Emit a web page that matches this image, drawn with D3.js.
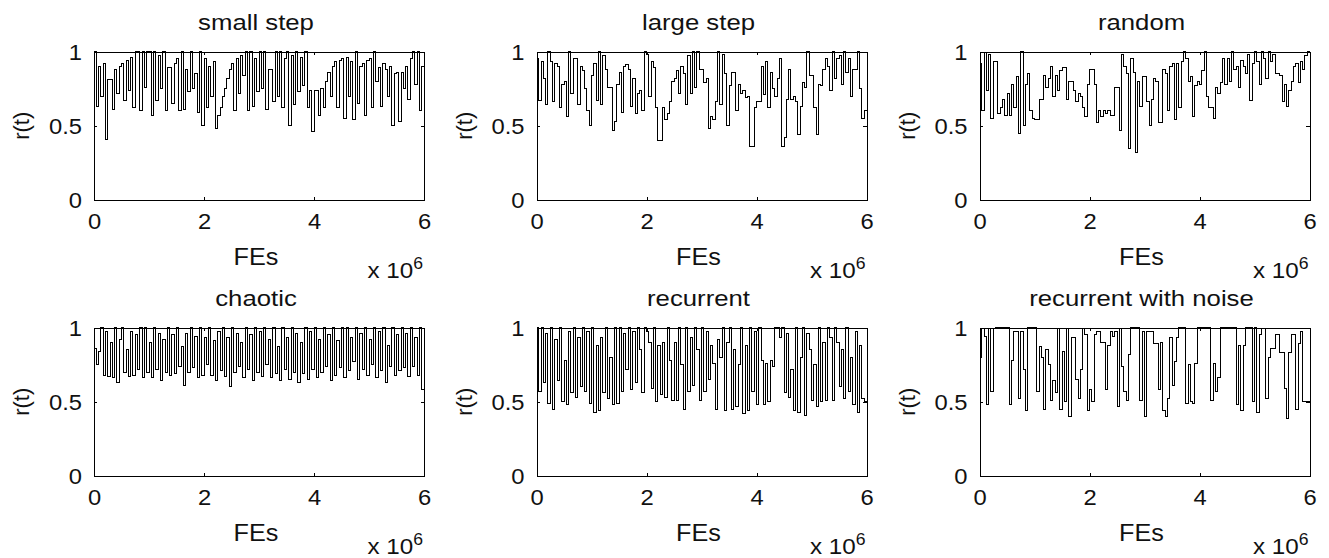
<!DOCTYPE html>
<html>
<head>
<meta charset="utf-8">
<script src="https://cdn.jsdelivr.net/npm/d3@7"></script>
<style>
  body { margin: 0; background: #fff; }
  svg { display: block; }
</style>
</head>
<body>
<svg id="chart" width="1329" height="558"></svg>
<script>
// r(t) traces sampled on a uniform FEs grid (x 10^6), one array per change type
const smallStep = [
  1, 0.63, 0.9, 0.70, 0.92, 0.41, 0.81, 0.81, 0.61, 0.88, 0.72, 0.9,
  0.92, 0.67, 0.94, 0.74, 0.96, 0.62, 1, 1, 0.6, 1, 0.76, 1,
  1, 0.57, 1, 0.67, 0.97, 0.75, 1, 0.6, 0.89, 0.89, 0.65, 0.92,
  0.95, 0.6, 1, 0.61, 0.88, 0.73, 1, 0.75, 0.85, 0.59, 1, 0.5,
  0.95, 0.62, 0.9, 0.7, 0.93, 0.48, 0.57, 0.62, 0.7, 0.75, 0.82, 0.88,
  0.92, 0.6, 0.95, 0.72, 0.97, 0.84, 1, 0.6, 1, 0.63, 0.95, 0.73,
  1, 0.75, 1, 0.61, 0.88, 0.88, 0.66, 1, 0.7, 1, 0.62, 0.95,
  1, 0.5, 0.97, 0.64, 1, 0.73, 0.96, 0.77, 1, 0.62, 0.74, 0.46,
  0.74, 0.74, 0.57, 0.75, 0.62, 0.8, 0.86, 0.7, 0.9, 0.93, 0.62, 0.94,
  0.95, 0.55, 0.96, 0.7, 0.93, 0.54, 1, 0.65, 0.9, 0.92, 0.57, 0.94,
  0.95, 0.62, 1, 0.8, 0.89, 0.63, 0.92, 0.88, 0.7, 0.9, 0.5, 0.85,
  0.86, 0.53, 0.86, 0.75, 0.9, 0.68, 0.95, 1, 0.78, 1, 0.6, 0.9
];
const largeStep = [
  0.95, 0.67, 0.93, 0.82, 0.64, 1, 0.93, 0.66, 0.92, 0.9, 0.62, 0.78,
  0.8, 0.56, 1, 0.72, 0.95, 0.95, 0.64, 0.9, 0.87, 0.75, 0.6, 0.5,
  0.84, 0.92, 0.67, 1, 0.64, 0.97, 0.88, 0.76, 0.76, 0.47, 0.53, 0.78,
  0.86, 0.59, 0.9, 0.91, 0.88, 0.63, 0.82, 0.58, 0.72, 0.74, 0.6, 1,
  0.98, 0.7, 0.93, 0.89, 0.62, 0.4, 0.4, 0.62, 0.54, 0.58, 0.66, 0.8,
  0.82, 0.87, 0.72, 0.9, 0.85, 0.64, 0.97, 0.72, 1, 0.76, 1, 0.88,
  0.88, 0.79, 0.82, 0.48, 0.56, 0.54, 0.66, 1, 0.64, 0.98, 0.85, 0.5,
  0.77, 0.86, 0.86, 0.6, 0.78, 0.72, 0.74, 0.69, 0.7, 0.36, 0.36, 0.62,
  0.66, 0.66, 0.9, 0.71, 0.93, 0.62, 0.86, 0.75, 0.7, 0.82, 0.95, 0.36,
  0.42, 0.68, 0.88, 0.68, 0.7, 0.66, 0.44, 0.63, 0.79, 0.76, 1, 0.84,
  0.84, 0.62, 0.44, 0.78, 0.77, 0.88, 0.95, 0.9, 0.74, 1, 0.82, 0.95,
  0.97, 0.78, 1, 0.86, 0.95, 0.7, 0.88, 0.88, 1, 0.75, 0.55, 0.6
];
const randomChange = [
  0.92, 0.6, 0.99, 0.74, 0.98, 0.55, 0.93, 0.93, 0.58, 0.62, 0.68, 0.57,
  0.72, 0.57, 0.78, 0.62, 0.83, 0.45, 1, 0.5, 0.78, 0.85, 0.6, 0.55,
  0.54, 0.54, 0.68, 0.68, 0.84, 0.76, 0.82, 0.9, 0.7, 0.84, 0.74, 0.87,
  0.89, 0.89, 0.68, 0.8, 0.8, 0.74, 0.66, 0.72, 0.7, 0.62, 0.56, 0.78,
  0.88, 0.88, 0.78, 0.52, 0.6, 0.56, 0.6, 0.58, 0.6, 0.57, 0.57, 0.76,
  0.76, 0.47, 0.98, 0.9, 0.85, 0.35, 0.95, 0.86, 0.32, 0.8, 0.63, 0.83,
  0.83, 0.66, 0.5, 0.68, 0.82, 0.8, 0.52, 0.52, 0.88, 0.85, 0.6, 0.9,
  0.92, 0.54, 0.92, 0.62, 0.93, 1, 0.95, 0.8, 0.83, 0.56, 0.77, 0.8,
  0.78, 0.87, 1, 0.7, 0.62, 0.62, 0.55, 0.76, 0.72, 0.79, 0.95, 0.78,
  0.95, 0.8, 1, 0.88, 0.9, 0.76, 0.94, 0.9, 0.85, 0.98, 0.67, 0.92,
  1, 0.93, 0.78, 1, 0.95, 0.82, 1, 0.93, 0.98, 0.85, 0.85, 0.84,
  0.66, 0.78, 0.63, 0.74, 0.8, 0.9, 0.92, 0.79, 0.93, 0.88, 0.97, 1
];
const chaotic = [
  0.86, 0.75, 0.84, 1, 0.68, 0.97, 0.67, 0.9, 0.66, 1, 0.63, 0.92,
  1, 0.7, 0.85, 0.67, 0.97, 0.68, 0.95, 0.72, 1, 0.66, 1, 0.7,
  0.9, 0.66, 1, 0.72, 0.96, 0.64, 0.92, 0.7, 1, 0.68, 0.95, 0.69,
  1, 0.74, 0.87, 0.61, 0.96, 0.7, 1, 0.73, 0.94, 0.66, 1, 0.68,
  0.93, 0.75, 1, 0.68, 0.91, 0.64, 0.97, 0.71, 1, 0.67, 0.93, 0.6,
  1, 0.7, 0.96, 0.74, 0.9, 0.66, 1, 0.72, 0.95, 0.64, 1, 0.7,
  0.97, 0.67, 1, 0.75, 0.92, 0.66, 1, 0.69, 0.87, 0.64, 1, 0.72,
  0.93, 0.65, 1, 0.7, 0.96, 0.63, 0.9, 0.69, 1, 0.65, 0.97, 0.72,
  1, 0.66, 0.92, 0.7, 1, 0.74, 0.95, 0.64, 1, 0.68, 0.91, 0.73,
  1, 0.66, 1, 0.71, 0.93, 0.77, 1, 0.65, 0.96, 0.72, 1, 0.68,
  0.92, 0.75, 1, 0.66, 0.97, 0.71, 1, 0.63, 0.88, 0.74, 1, 0.68,
  0.95, 0.71, 1, 0.73, 0.96, 0.67, 1, 0.74, 0.93, 0.68, 1, 0.58
];
const recurrent = [
  1, 0.57, 1, 0.63, 0.96, 0.49, 1, 0.45, 0.92, 0.64, 1, 0.5,
  0.78, 0.48, 0.97, 0.56, 1, 0.53, 0.93, 0.6, 1, 0.57, 0.97, 0.49,
  1, 0.43, 0.88, 0.44, 0.93, 0.56, 1, 0.52, 0.8, 0.48, 1, 0.49,
  1, 0.57, 0.96, 0.72, 1, 0.58, 0.97, 0.63, 1, 0.85, 0.56, 1,
  0.97, 0.9, 0.59, 1, 0.5, 0.88, 0.55, 0.9, 0.53, 1, 0.78, 0.51,
  0.9, 0.51, 1, 0.75, 0.45, 1, 0.57, 0.93, 0.61, 1, 0.85, 0.51,
  1, 0.57, 0.97, 0.65, 0.88, 0.76, 0.45, 0.92, 0.8, 1, 0.44, 0.9,
  1, 0.45, 0.85, 0.47, 0.75, 1, 0.42, 0.88, 0.44, 1, 0.57, 0.97,
  0.48, 1, 0.78, 0.48, 0.76, 0.5, 0.78, 0.74, 1, 1, 0.93, 1,
  0.56, 0.96, 0.53, 0.72, 0.44, 1, 0.43, 0.8, 1, 0.41, 0.96, 0.85,
  0.51, 0.75, 0.47, 1, 0.5, 0.9, 0.51, 1, 0.93, 0.51, 1, 0.9,
  0.6, 0.85, 0.52, 1, 0.57, 0.8, 0.48, 0.97, 0.43, 0.88, 0.52, 0.5
];
const recurrentNoise = [
  0.8, 0.99, 0.94, 0.48, 0.99, 0.57, 0.99, 1, 1, 1, 1, 1,
  1, 0.48, 0.78, 0.97, 0.97, 0.52, 0.97, 0.72, 0.44, 1, 1, 1,
  1, 0.57, 0.87, 0.8, 0.45, 0.85, 0.75, 0.51, 0.64, 0.56, 0.99, 0.45,
  0.84, 0.5, 0.99, 0.4, 0.93, 0.93, 0.65, 0.52, 0.72, 0.99, 0.95, 0.44,
  0.58, 0.5, 0.95, 0.97, 0.97, 0.9, 0.9, 0.58, 0.88, 0.97, 0.94, 0.97,
  0.47, 0.99, 0.74, 0.57, 0.51, 0.82, 1, 1, 1, 1, 0.51, 0.97,
  0.4, 0.97, 0.97, 0.97, 0.89, 0.89, 0.58, 0.9, 0.44, 0.4, 0.52, 0.93,
  0.61, 0.77, 0.93, 1, 1, 1, 0.49, 0.75, 0.5, 0.49, 0.76, 1,
  1, 1, 1, 1, 1, 0.51, 0.76, 0.57, 0.66, 1, 1, 1,
  1, 1, 1, 1, 0.48, 0.88, 0.44, 0.88, 1, 1, 1, 0.5,
  1, 0.43, 0.95, 0.99, 0.99, 0.52, 0.8, 0.86, 0.86, 0.95, 0.95, 0.83,
  0.83, 0.59, 0.39, 0.83, 0.95, 0.95, 0.45, 0.89, 0.97, 0.5, 0.5, 0.5
];

const panelTitles = ["small step", "large step", "random", "chaotic", "recurrent", "recurrent with noise"];
const panelSeries = [smallStep, largeStep, randomChange, chaotic, recurrent, recurrentNoise];
const xTicks = [0, 2, 4, 6];
const yTicks = [0, 0.5, 1];
const xDomain = [0, 6];
const yDomain = [0, 1];
const xLabel = "FEs";
const yLabel = "r(t)";

// ---- layout ----
const colX = [94, 536.5, 979.5];
const rowY = [51.5, 327.5];
const W = 330, H = 148.5;
const FONT = "'Liberation Sans', Arial, Helvetica, sans-serif";
const INK = "#111";

const svg = d3.select("#chart");
svg.append("rect").attr("width", 1329).attr("height", 558).attr("fill", "#fff");

const x = d3.scaleLinear().domain(xDomain).range([0, W]);
const y = d3.scaleLinear().domain(yDomain).range([H, 0]);

const stairs = d3.line()
  .x(d => x(d[0]))
  .y(d => y(d[1]))
  .curve(d3.curveStepAfter);

function styleAxis(g) {
  g.selectAll("path.domain").attr("stroke", "#000").attr("stroke-width", 1).attr("shape-rendering", "crispEdges");
  g.selectAll(".tick line").attr("stroke", "#000").attr("stroke-width", 1).attr("shape-rendering", "crispEdges");
  g.selectAll("text").attr("fill", INK).attr("font-family", FONT).attr("font-size", 22);
}

panelSeries.forEach((series, i) => {
  const col = i % 3, row = Math.floor(i / 3);
  const g = svg.append("g").attr("transform", `translate(${colX[col]},${rowY[row]})`);

  // stairs trace: each sample holds until the next grid point
  const dx = (xDomain[1] - xDomain[0]) / series.length;
  const pts = series.map((v, k) => [xDomain[0] + k * dx, v]);
  pts.push([xDomain[1], series[series.length - 1]]);

  g.append("path")
    .datum(pts)
    .attr("fill", "none")
    .attr("stroke", "#000")
    .attr("stroke-width", 1)
    .attr("shape-rendering", "crispEdges")
    .attr("d", stairs);

  // boxed axes with inward ticks on every side
  const sxTick = 1.08;
  const gx = g.append("g").attr("transform", `translate(0,${H})`)
    .call(d3.axisBottom(x).tickValues(xTicks).tickFormat(d => String(d))
      .tickSizeInner(-3.3).tickSizeOuter(0).tickPadding(13));
  styleAxis(gx);
  gx.selectAll("text").attr("transform", `scale(${sxTick},1)`);

  const gy = g.append("g")
    .call(d3.axisLeft(y).tickValues(yTicks).tickFormat(d => String(d))
      .tickSizeInner(-3.3).tickSizeOuter(0).tickPadding(12 / sxTick));
  styleAxis(gy);
  gy.selectAll("text").attr("transform", `scale(${sxTick},1)`).attr("dy", "0.36em");

  const gt = g.append("g")
    .call(d3.axisTop(x).tickValues(xTicks).tickFormat("").tickSizeInner(-3.3).tickSizeOuter(0));
  styleAxis(gt);
  const gr = g.append("g").attr("transform", `translate(${W},0)`)
    .call(d3.axisRight(y).tickValues(yTicks).tickFormat("").tickSizeInner(-3.3).tickSizeOuter(0));
  styleAxis(gr);

  // title
  g.append("text")
    .attr("transform", `translate(${W / 2 - 3},-21.5) scale(1.17,1)`)
    .attr("text-anchor", "middle")
    .attr("font-family", FONT).attr("font-size", 22).attr("fill", INK)
    .text(panelTitles[i]);

  // x label
  g.append("text")
    .attr("transform", `translate(${W / 2 - 3},${H + 65}) scale(1.05,1)`)
    .attr("text-anchor", "middle")
    .attr("font-family", FONT).attr("font-size", 24).attr("fill", INK)
    .text(xLabel);

  // exponent note
  const ex = g.append("text")
    .attr("transform", `translate(${W - 1},${H + 78}) scale(1.1,1)`)
    .attr("text-anchor", "end")
    .attr("font-family", FONT).attr("font-size", 22).attr("fill", INK);
  ex.append("tspan").text("x 10");
  ex.append("tspan").attr("dy", -9).attr("font-size", 16).text("6");

  // y label
  g.append("text")
    .attr("transform", `translate(-65,${H / 2}) rotate(-90)`)
    .attr("text-anchor", "middle")
    .attr("font-family", FONT).attr("font-size", 22).attr("fill", INK)
    .text(yLabel);
});
</script>
</body>
</html>
